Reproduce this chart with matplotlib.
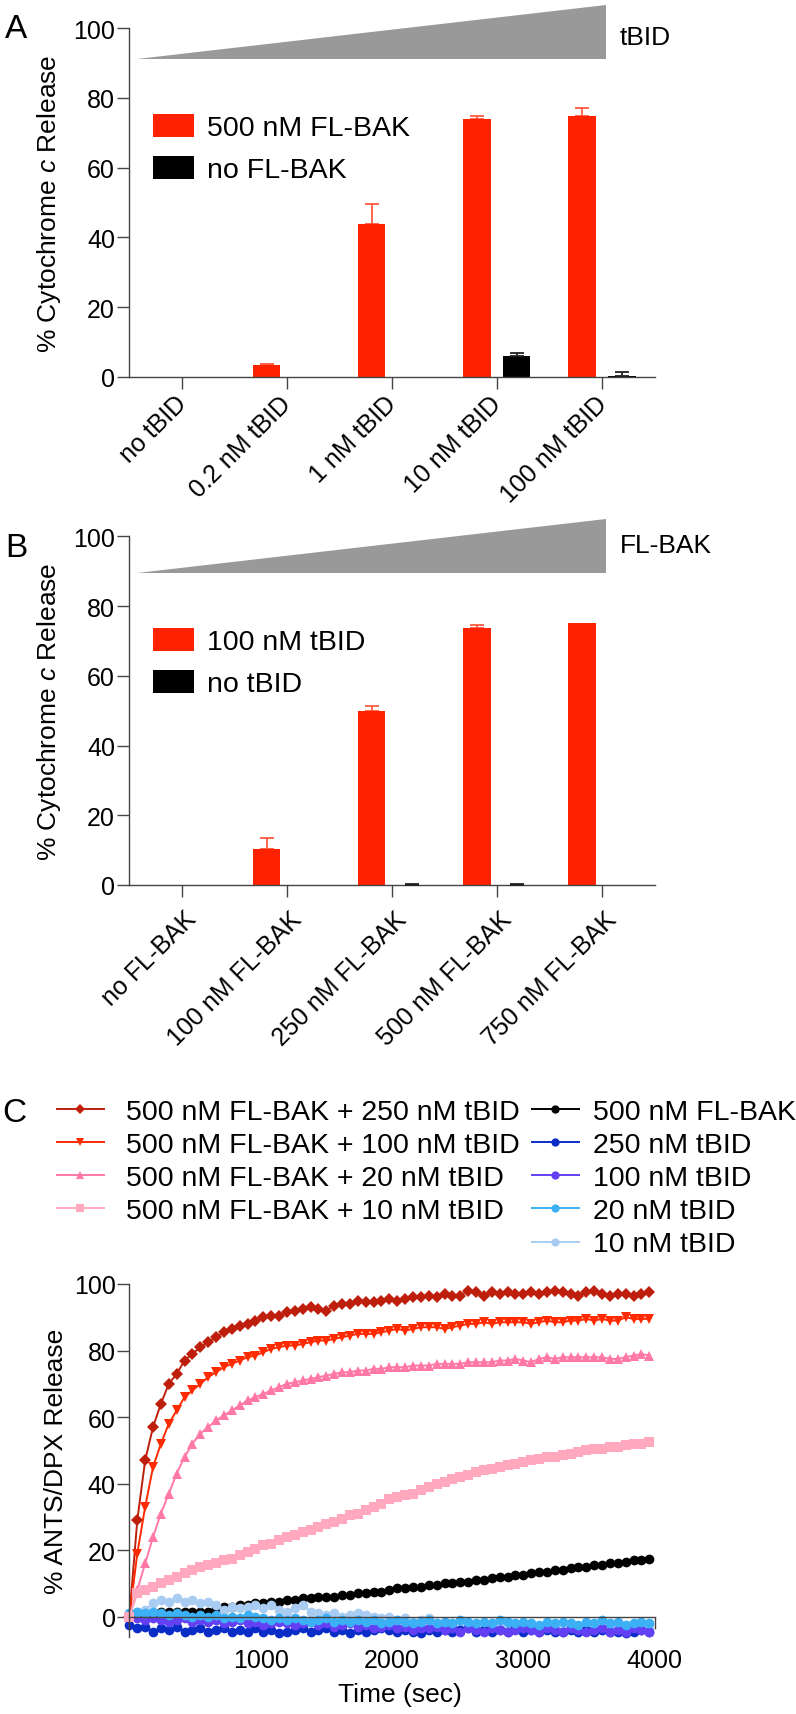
import numpy as np
import matplotlib
matplotlib.use("Agg")
import matplotlib.pyplot as plt
import matplotlib.transforms as mtransforms

plt.rcParams['font.family'] = ['Liberation Sans', 'DejaVu Sans']
plt.rcParams['mathtext.fontset'] = 'custom'
plt.rcParams['mathtext.rm'] = 'Liberation Sans'
plt.rcParams['mathtext.it'] = 'Liberation Sans:italic'

#%% Data
# panel A: cytochrome c release vs tBID dose
cats_A = ["no tBID", "0.2 nM tBID", "1 nM tBID", "10 nM tBID", "100 nM tBID"]
bak_A = [0, 3.3, 43.8, 74.0, 74.9]
bak_A_err = [0, 0.4, 5.8, 0.7, 2.3]
nobak_A = [0, 0, 0, 5.8, 0.2]
nobak_A_err = [0, 0, 0, 1.0, 1.1]

# panel B: cytochrome c release vs FL-BAK dose
cats_B = ["no FL-BAK", "100 nM FL-BAK", "250 nM FL-BAK", "500 nM FL-BAK", "750 nM FL-BAK"]
tbid_B = [0, 10.3, 50.0, 73.8, 75.1]
tbid_B_err = [0, 3.3, 1.2, 0.8, 0]
notbid_B = [0, 0, 0, 0, 0]
notbid_B_err = [0, 0, 0.3, 0.3, 0]

# panel C: ANTS/DPX release kinetics
time_sec = [0, 60, 120, 180, 240, 300, 360, 420, 480, 540,
            600, 660, 720, 780, 840, 900, 960, 1020, 1080, 1140,
            1200, 1260, 1320, 1380, 1440, 1500, 1560, 1620, 1680, 1740,
            1800, 1860, 1920, 1980, 2040, 2100, 2160, 2220, 2280, 2340,
            2400, 2460, 2520, 2580, 2640, 2700, 2760, 2820, 2880, 2940,
            3000, 3060, 3120, 3180, 3240, 3300, 3360, 3420, 3480, 3540,
            3600, 3660, 3720, 3780, 3840, 3900, 3960]

bak_tbid250 = [0, 29, 47, 57, 64, 70, 73, 77, 79, 81,
               82.5, 84, 85.5, 86.5, 87.5, 88, 89, 90, 90.5, 90.5,
               91.5, 92, 92.5, 93, 92.5, 92, 93.5, 94, 94, 95,
               94.5, 94.5, 95, 95.5, 95, 95.5, 96, 96, 96.5, 96,
               97, 96.5, 96.5, 98, 97.5, 96.5, 97.5, 97, 97.5, 97,
               97, 97.5, 97, 97.5, 98, 97.5, 97, 96.5, 97.5, 98,
               97, 96.5, 97, 97, 96.5, 97, 97.5]
bak_tbid100 = [0, 19, 33, 45, 52, 58, 62, 66, 68, 70,
               72, 73.5, 75, 76, 77, 78, 78.5, 79.5, 80.5, 81,
               81.5, 81.5, 82, 82.5, 83, 83, 83.5, 84, 84.5, 85,
               85, 85, 85.5, 86, 86.5, 86, 86.5, 87, 87, 87,
               86.5, 87, 87.5, 88, 88, 88.5, 88, 88.5, 88.5, 88.5,
               88.5, 88, 88.5, 89, 88.5, 88.5, 89, 89, 89.5, 89,
               89.5, 89, 89, 90, 89.5, 89.5, 89.5]
bak_tbid20 = [0, 8, 16, 24, 31, 37, 43, 48, 52, 55,
              57, 59, 60.5, 62, 63.5, 65, 66, 67, 68, 69,
              70, 70.5, 71, 71.5, 72, 72.5, 73, 73.5, 73.5, 74,
              74, 74.5, 74.5, 75, 75, 75, 75.5, 75.5, 75.5, 76,
              76, 76, 76, 76.5, 76.5, 76.5, 76.5, 77, 77, 77.5,
              77, 76.5, 77.5, 78, 77.5, 78, 78, 78, 78, 78,
              78, 77.5, 77.5, 78, 78.5, 79, 78.5]
bak_tbid10 = [0, 7, 8, 9, 10, 11, 12, 13, 14, 15,
              15.5, 16, 17, 17.5, 18.5, 19.5, 20.5, 21.5, 22, 23,
              24, 24.5, 25.5, 26, 27, 28, 28.5, 29.5, 30.5, 31,
              32, 33, 34, 35.5, 36, 36.5, 37, 38, 39, 40,
              40.5, 41.5, 42, 42.5, 43.5, 44, 44.5, 45, 45.5, 46,
              46.5, 47, 47.5, 48, 48, 48.5, 49, 49.5, 50, 50.5,
              50.5, 51, 51, 51.5, 52, 52, 52.5]
bak_only = [0, 0, -0.5, 0.5, 1.5, 1.5, 1.5, 1.5, 1.5, 1.5,
            1.5, 2.5, 3, 3, 3.5, 3.5, 4, 4, 4.5, 4.5,
            5, 5, 5.5, 5.5, 6, 6, 6, 6.5, 6.5, 7,
            7, 7.5, 7.5, 8, 8.5, 8.5, 9, 9, 9.5, 9.5,
            10, 10, 10.5, 10.5, 11, 11, 11.5, 12, 12, 12.5,
            12.5, 13, 13.5, 13.5, 14, 14, 14.5, 15, 15, 15.5,
            15.5, 16, 16, 16.5, 17, 17, 17.5]
tbid250 = [-2.5, -3.5, -3.0, -4.5, -3.5, -4.0, -3.0, -4.5, -4.0, -3.5,
           -4.5, -4.0, -3.5, -4.5, -4.0, -4.5, -3.5, -4.5, -4.0, -5.0,
           -4.5, -4.0, -3.5, -4.5, -4.0, -3.5, -4.5, -4.0, -5.0, -4.0,
           -4.5, -4.0, -3.5, -4.0, -4.5, -4.0, -4.5, -5.0, -4.0, -4.5,
           -4.0, -4.5, -4.0, -3.5, -4.5, -4.0, -4.5, -4.0, -4.5, -3.5,
           -4.5, -4.0, -4.5, -4.0, -4.5, -4.5, -4.0, -4.5, -4.0, -4.5,
           -4.0, -4.5, -4.5, -5.0, -4.5, -4.0, -4.5]
tbid100 = [0.0, -0.5, -1.0, -0.5, -1.0, -1.5, -1.0, -0.5, -1.5, -1.0,
           -1.5, -1.0, -2.0, -1.5, -1.0, -2.0, -1.5, -2.5, -2.0, -1.5,
           -2.0, -2.5, -2.0, -1.5, -2.5, -2.0, -3.0, -2.5, -2.0, -3.0,
           -2.5, -3.5, -3.0, -2.5, -3.5, -3.0, -4.0, -3.5, -3.5, -3.0,
           -4.0, -3.5, -4.5, -3.5, -4.0, -4.5, -3.5, -4.0, -4.5, -4.0,
           -3.5, -4.0, -4.5, -3.5, -4.0, -4.5, -3.5, -4.0, -4.5, -4.0,
           -3.5, -4.5, -4.0, -4.5, -3.5, -4.0, -4.5]
tbid20 = [1.0, 1.5, 1.0, 1.5, 1.0, 0.5, 1.0, 0.5, 0.0, 0.5,
          0.0, 0.5, -0.5, 0.0, -0.5, 0.5, 0.0, -0.5, -1.0, -0.5,
          -1.0, -0.5, -1.0, -1.5, -1.0, -0.5, -1.5, -1.0, -1.5, -1.0,
          -1.5, -1.0, -2.0, -1.5, -1.0, -1.5, -2.0, -1.5, -1.0, -2.0,
          -1.5, -2.0, -1.0, -1.5, -2.0, -1.5, -2.0, -1.0, -1.5, -2.0,
          -1.5, -2.0, -2.5, -1.5, -2.0, -1.5, -2.0, -2.5, -1.5, -2.0,
          -1.0, -2.0, -1.5, -2.5, -2.0, -1.5, -2.0]
tbid10 = [0.5, 1.5, 2.0, 4.0, 5.0, 4.5, 5.5, 4.5, 5.0, 4.0,
          4.5, 3.5, 2.0, 3.0, 2.5, 3.0, 3.5, 2.5, 3.5, 2.0,
          1.5, 2.5, 3.5, 1.5, 1.0, 0.5, 1.0, 0.0, 0.5, 1.0,
          0.5, 0.0, -0.5, 0.0, -1.0, -0.5, -1.5, -1.0, -0.5, -2.0,
          -1.5, -2.5, -2.0, -3.0, -2.5, -3.5, -2.0, -3.0, -3.5, -2.5,
          -4.0, -3.0, -3.5, -2.5, -3.0, -4.0, -3.5, -4.5, -3.0, -3.5,
          -4.0, -3.0, -3.5, -2.5, -3.5, -3.0, -3.5]

# label, values, colour, marker, marker size, drawing order
series_C = [
    ("500 nM FL-BAK + 250 nM tBID", bak_tbid250, '#BE1E0C', 'D', 6.0, 2.5),
    ("500 nM FL-BAK + 100 nM tBID", bak_tbid100, '#FF2A00', 'v', 7.0, 2.5),
    ("500 nM FL-BAK + 20 nM tBID", bak_tbid20, '#FF78A8', '^', 7.0, 2.5),
    ("500 nM FL-BAK + 10 nM tBID", bak_tbid10, '#FFA8BE', 's', 6.5, 2.5),
    ("500 nM FL-BAK", bak_only, '#000000', 'o', 7.0, 2.0),
    ("250 nM tBID", tbid250, '#0A2DC8', 'o', 7.0, 2.2),
    ("100 nM tBID", tbid100, '#6440F5', 'o', 7.0, 2.3),
    ("20 nM tBID", tbid20, '#3CB0F5', 'o', 7.0, 2.4),
    ("10 nM tBID", tbid10, '#A8CCF2', 'o', 7.0, 2.1),
]

RED = '#FF2200'
W, H = 796, 1715

fig = plt.figure(figsize=(W / 100, H / 100), dpi=100)


def px_axes(left, top, right, bottom):
    return fig.add_axes([left / W, 1 - bottom / H, (right - left) / W, (bottom - top) / H])


def style_axes(ax):
    for s in ['top', 'right']:
        ax.spines[s].set_visible(False)
    for s in ['left', 'bottom']:
        ax.spines[s].set_color('#444444')
        ax.spines[s].set_linewidth(1.0)
    ax.tick_params(axis='both', direction='out', length=8.5, width=1.0, color='#444444')
    ax.tick_params(axis='y', labelsize=18, pad=1.5)


def bar_panel(ax, cats, red, red_err, blk, blk_err, red_lbl, blk_lbl, ramp_lbl, ramp_lo, ramp_hi, leg_y, lbl_shift):
    x = np.arange(len(cats))
    red, red_err = np.array(red), np.array(red_err)
    blk, blk_err = np.array(blk), np.array(blk_err)
    ax.bar(x - 0.19, red, 0.26, color=RED, label=red_lbl, zorder=2)
    ax.bar(x + 0.19, blk, 0.26, color='black', label=blk_lbl, zorder=2)
    # upper error bars only
    m = red_err > 0
    ax.errorbar(x[m] - 0.19, red[m], yerr=[np.zeros(m.sum()), red_err[m]], fmt='none',
                ecolor='#FF5A40', elinewidth=1.3, capsize=5, capthick=1.3, zorder=1, clip_on=False)
    m = blk_err > 0
    ax.errorbar(x[m] + 0.19, blk[m], yerr=[np.zeros(m.sum()), blk_err[m]], fmt='none',
                ecolor='#222222', elinewidth=1.3, capsize=5, capthick=1.3, zorder=3, clip_on=False)
    style_axes(ax)
    ax.set_xlim(-0.5, 4.5)
    ax.set_ylim(0, 100)
    ax.set_yticks([0, 20, 40, 60, 80, 100])
    ax.set_xticks(x)
    ax.set_xticklabels(cats, rotation=45, ha='right', va='center', rotation_mode='anchor', fontsize=18)
    ax.tick_params(axis='x', pad=8)
    shift = mtransforms.ScaledTranslation(lbl_shift[0] / 100, -lbl_shift[1] / 100, fig.dpi_scale_trans)
    for t in ax.get_xticklabels():
        t.set_transform(t.get_transform() + shift)
    ax.set_ylabel('% Cytochrome $\\mathit{c}$ Release', fontsize=19)
    ax.yaxis.set_label_coords(-0.1256, 0.5)
    # grey ramp above the bars
    ax.fill([-0.424, 4.034, 4.034], [ramp_lo, ramp_lo, ramp_hi], color='#999999', lw=0, clip_on=False)
    ax.text(4.17, 97.5, ramp_lbl, fontsize=19, va='center', ha='left')
    ax.legend(loc='upper left', bbox_to_anchor=(0.0457, leg_y), frameon=False, fontsize=20.5,
              handlelength=1.45, handleheight=0.9, handletextpad=0.45, labelspacing=0.5,
              borderpad=0, borderaxespad=0)


axA = px_axes(129, 29.3, 654.5, 377.7)
bar_panel(axA, cats_A, bak_A, bak_A_err, nobak_A, nobak_A_err,
          "500 nM FL-BAK", "no FL-BAK", "tBID", 91.1, 106.8, 0.755, (1, 0))

axB = px_axes(129, 537.3, 654.5, 886)
bar_panel(axB, cats_B, tbid_B, tbid_B_err, notbid_B, notbid_B_err,
          "100 nM tBID", "no tBID", "FL-BAK", 89.5, 105.0, 0.738, (11, 7))

#%% Panel C
axC = px_axes(129.4, 1285, 654.6, 1637.7)
lines = []
for lbl, y, col, mk, ms, z in series_C:
    ln, = axC.plot(time_sec, y, color=col, marker=mk, markersize=ms, markeredgewidth=0,
                   lw=1.4, label=lbl, clip_on=False, zorder=z)
    lines.append(ln)
style_axes(axC)
axC.spines['bottom'].set_position(('data', 0))
axC.set_xlim(0, 4000)
axC.set_ylim(-6, 100)
axC.set_yticks([0, 20, 40, 60, 80, 100])
axC.set_xticks([1000, 2000, 3000, 4000])
axC.tick_params(axis='x', labelsize=18, pad=14)
axC.set_ylabel('% ANTS/DPX Release', fontsize=19)
axC.yaxis.set_label_coords(-0.117, 0.5)
axC.set_xlabel('Time (sec)', fontsize=19)
axC.xaxis.set_label_coords(0.515, -0.128)

leg_kw = dict(loc='upper left', bbox_transform=fig.transFigure, frameon=False, fontsize=20.5,
              handlelength=1.65, labelspacing=0.25, borderpad=0,
              borderaxespad=0, numpoints=1, markerscale=0.85)
leg1 = axC.legend(handles=lines[:4], bbox_to_anchor=(57 / W, 1 - 1100 / H), handletextpad=0.78, **leg_kw)
axC.add_artist(leg1)
axC.legend(handles=lines[4:], bbox_to_anchor=(532 / W, 1 - 1100 / H), handletextpad=0.48, **leg_kw)

# panel letters
for letter, (lx, ly) in zip("ABC", [(16, 30), (16, 549), (14, 1114)]):
    fig.text(lx / W, 1 - ly / H, letter, fontsize=24, ha='center', va='center')

fig.savefig("out.png", dpi=100)
